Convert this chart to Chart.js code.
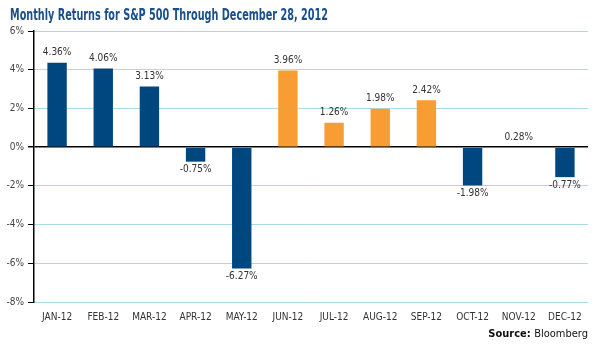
<!DOCTYPE html>
<html><head><meta charset="utf-8">
<script src="https://cdn.jsdelivr.net/npm/chart.js@4.4.1/dist/chart.umd.min.js"></script>
<style>html,body{margin:0;padding:0;background:#fff}#wrap{width:600px;height:345px;position:relative}</style>
</head><body><div id="wrap"><canvas id="c" width="600" height="345"></canvas></div>
<script>
const months = ['JAN-12','FEB-12','MAR-12','APR-12','MAY-12','JUN-12','JUL-12','AUG-12','SEP-12','OCT-12','NOV-12','DEC-12'];
const barValues = [4.36, 4.06, 3.13, -0.75, -6.27, 3.96, 1.26, 1.98, 2.42, -1.98, 0, -1.55];
const labelTexts = ['4.36%','4.06%','3.13%','-0.75%','-6.27%','3.96%','1.26%','1.98%','2.42%','-1.98%','0.28%','-0.77%'];
const labelSigns = [1,1,1,-1,-1,1,1,1,1,-1,1,-1];
const barColors = ['#00467f','#00467f','#00467f','#00467f','#00467f','#f79d33','#f79d33','#f79d33','#f79d33','#00467f','#00467f','#00467f'];
const yTicks = [-8,-6,-4,-2,0,2,4,6];
const titleText = 'Monthly Returns for S&P 500 Through December 28, 2012';

const FONT = "'Liberation Sans Narrow','DejaVu Sans Condensed','Arial Narrow',sans-serif";

const decor = {
  id: 'decor',
  afterDatasetsDraw(chart) {
    const ctx = chart.ctx;
    const meta = chart.getDatasetMeta(0);
    const y = chart.scales.y;
    ctx.save();
    ctx.font = '10px ' + FONT;
    ctx.fillStyle = '#333';
    ctx.textAlign = 'center';
    meta.data.forEach((bar, i) => {
      const x = bar.x;
      if (labelSigns[i] > 0) {
        const top = Math.min(bar.y, y.getPixelForValue(0));
        ctx.textBaseline = 'bottom';
        ctx.fillText(labelTexts[i], x, top - 5);
      } else {
        ctx.textBaseline = 'top';
        ctx.fillText(labelTexts[i], x, bar.y + 3);
      }
    });
    // title
    ctx.textAlign = 'left';
    ctx.textBaseline = 'alphabetic';
    ctx.fillStyle = '#1a4f8b';
    ctx.font = 'bold 15px ' + FONT;
    const w = ctx.measureText(titleText).width;
    const target = 318;
    ctx.save();
    ctx.translate(10, 20);
    ctx.scale(target / w, 1);
    ctx.fillText(titleText, 0, 0);
    ctx.restore();
    // source
    ctx.fillStyle = '#111';
    ctx.font = '11px ' + FONT;
    ctx.textAlign = 'right';
    const bw = ctx.measureText('Bloomberg').width;
    ctx.fillText('Bloomberg', 588, 337);
    ctx.font = 'bold 11px ' + FONT;
    ctx.fillText('Source: ', 588 - bw, 337);
    ctx.restore();
  }
};

new Chart(document.getElementById('c'), {
  type: 'bar',
  data: {
    labels: months,
    datasets: [{
      data: barValues,
      backgroundColor: barColors,
      borderWidth: 0,
      categoryPercentage: 1,
      barPercentage: 0.42
    }]
  },
  options: {
    responsive: false,
    animation: false,
    devicePixelRatio: 1,
    layout: { padding: { top: 31, right: 12, left: 0, bottom: 0 } },
    plugins: { legend: { display: false }, tooltip: { enabled: false } },
    scales: {
      x: {
        afterFit(s) { s.height = 43; },
        grid: { display: false, drawTicks: false },
        border: { display: false },
        ticks: { color: '#333', font: { family: FONT, size: 10 }, padding: 9, maxRotation: 0, autoSkip: false }
      },
      y: {
        min: -8, max: 6,
        afterFit(s) { s.width = 34; },
        afterBuildTicks(s) { s.ticks = yTicks.map(v => ({ value: v })); },
        grid: {
          color: c => (c.tick && c.tick.value === 0) ? '#000' : '#a9dde6',
          lineWidth: c => (c.tick && c.tick.value === 0) ? 1.5 : 1,
          tickColor: '#000',
          tickLength: 6,
          drawTicks: true
        },
        border: { display: true, color: '#000', width: 1.5 },
        ticks: { color: '#444', font: { family: FONT, size: 10 }, padding: 4, callback: v => v + '%' }
      }
    }
  },
  plugins: [decor]
});
</script>
</body></html>
